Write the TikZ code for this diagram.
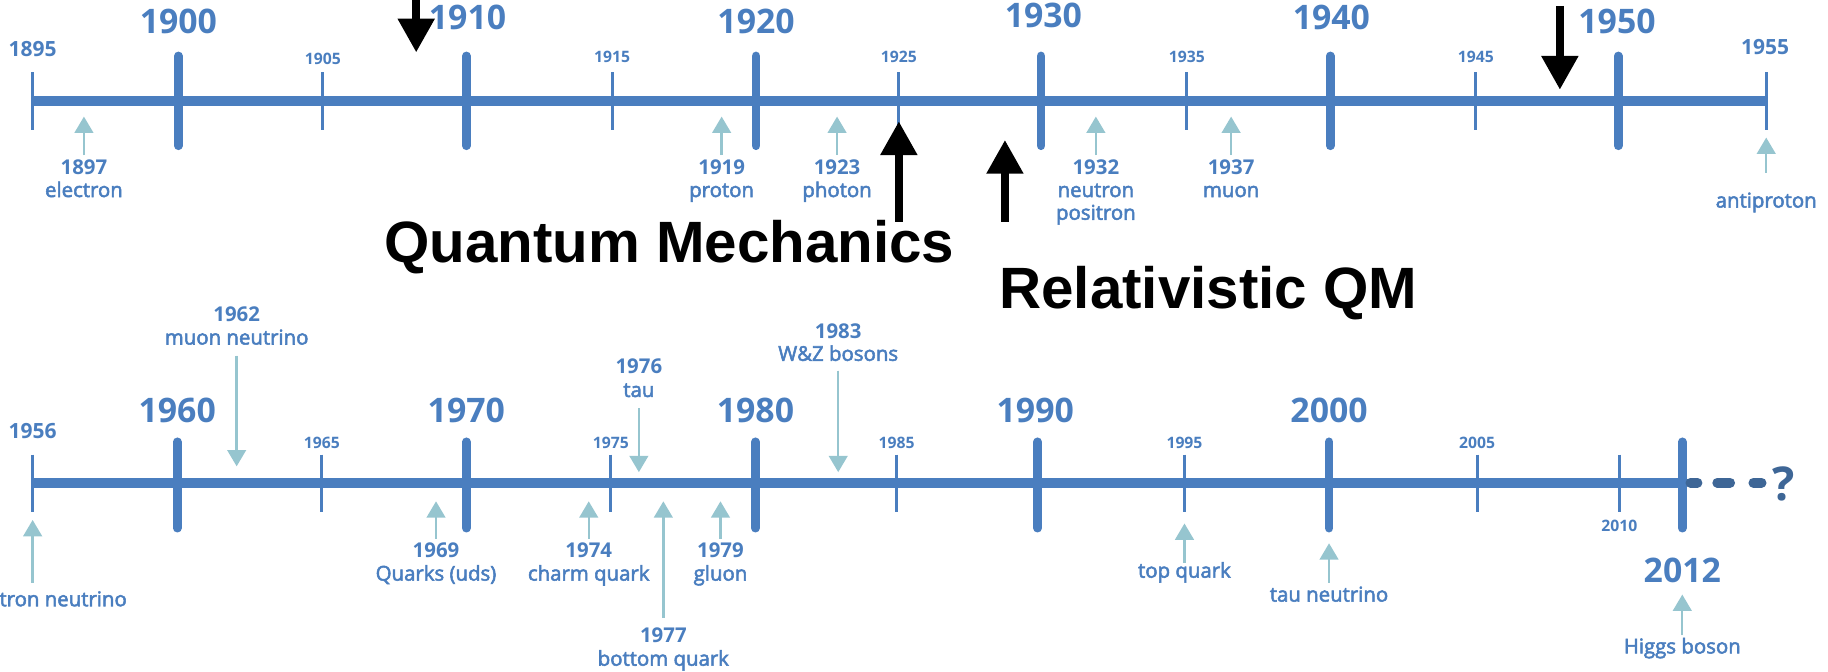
\documentclass[tikz,border=0pt]{standalone}
\usepackage{fontspec}
\usetikzlibrary{arrows.meta}
\setmainfont{Open Sans}
\newfontfamily\evnamefont[FakeBold=2.6]{Open Sans}
\newfontfamily\arialfont{Liberation Sans}
\definecolor{tlblue}{HTML}{4A7EBF}
\definecolor{tllight}{HTML}{96C5CF}
\definecolor{tldark}{HTML}{3E6696}
\tikzset{
  axisline/.style={line width=8.5pt, draw=tlblue},
  majortick/.style={line width=7.5pt, draw=tlblue, line cap=round},
  minortick/.style={line width=2.6pt, draw=tlblue},
  bigyear/.style={text=tlblue, anchor=base, inner sep=0pt, font=\fontsize{29}{34}\selectfont\bfseries},
  midyear/.style={text=tlblue, anchor=base, inner sep=0pt, font=\fontsize{18}{22}\selectfont\bfseries},
  smallyear/.style={text=tlblue, anchor=base, inner sep=0pt, font=\fontsize{13.5}{16}\selectfont\bfseries},
  evyear/.style={text=tlblue, anchor=base, inner sep=0pt, font=\fontsize{17.5}{21}\selectfont\bfseries},
  evname/.style={text=tlblue, anchor=base, inner sep=0pt, font=\fontsize{17.5}{21}\selectfont\evnamefont},
  evarrow/.style={draw=tllight, line width=2pt, -{Triangle[width=16pt,length=14pt]}, fill=tllight},
  bigarrow/.style={draw=black, line width=7pt, -{Triangle[width=30pt,length=29pt]}},
  bigtext/.style={text=black, anchor=base, inner sep=0pt, font=\fontsize{50}{60}\selectfont\arialfont\bfseries},
  dashseg/.style={draw=tldark, line width=8.5pt, line cap=round},
}
\begin{document}
\begin{tikzpicture}[x=1pt,y=-1pt]
\useasboundingbox (0,0) rectangle (1568,576);

% ---------- top timeline ----------
\coordinate (ta) at (28,87);
\coordinate (tb) at (1515,87);
\draw[axisline] (ta) -- (tb);
\foreach \x/\n in {153/1900,400/1910,648.5/1920,893/1930,1141/1940,1388/1950}
  \draw[majortick] (\x,48) -- (\x,125);
\foreach \x/\n in {28/1895,277/1905,525/1915,771/1925,1018/1935,1266/1945,1515/1955}
  \draw[minortick] (\x,62) -- (\x,111.5);

\node[bigyear] (l1900) at (153,28.6) {1900};
\node[bigyear] (l1910) at (401,25.5) {1910};
\node[bigyear] (l1920) at (648.5,28.5) {1920};
\node[bigyear] (l1930) at (895,23.5) {1930};
\node[bigyear] (l1940) at (1142,25.5) {1940};
\node[bigyear] (l1950) at (1387,28.5) {1950};
\node[midyear] (l1895) at (28,48.5) {1895};
\node[midyear] (l1955) at (1514,46.5) {1955};
\node[smallyear] (l1905) at (277,55) {1905};
\node[smallyear] (l1915) at (525,54) {1915};
\node[smallyear] (l1925) at (771,54) {1925};
\node[smallyear] (l1935) at (1018,54) {1935};
\node[smallyear] (l1945) at (1266,54) {1945};

% top events
\node[evyear] (y1897) at (72,149.5) {1897};
\node[evname] (n1897) at (72,169) {electron};
\coordinate (a1897t) at (72,100); \coordinate (a1897b) at (72,133);
\draw[evarrow] (a1897b) -- (a1897t);

\node[evyear] (y1919) at (619,149.5) {1919};
\node[evname] (n1919) at (619,169) {proton};
\coordinate (a1919t) at (619,100); \coordinate (a1919b) at (619,133);
\draw[evarrow] (a1919b) -- (a1919t);

\node[evyear] (y1923) at (718,149.5) {1923};
\node[evname] (n1923) at (718,169) {photon};
\coordinate (a1923t) at (718,100); \coordinate (a1923b) at (718,133);
\draw[evarrow] (a1923b) -- (a1923t);

\node[evyear] (y1932) at (940,149.5) {1932};
\node[evname] (n1932a) at (940,169) {neutron};
\node[evname] (n1932b) at (940,188.5) {positron};
\coordinate (a1932t) at (940,100); \coordinate (a1932b) at (940,133);
\draw[evarrow] (a1932b) -- (a1932t);

\node[evyear] (y1937) at (1056,149.5) {1937};
\node[evname] (n1937) at (1056,169) {muon};
\coordinate (a1937t) at (1056,100); \coordinate (a1937b) at (1056,133);
\draw[evarrow] (a1937b) -- (a1937t);

\node[evname] (n1955) at (1515,178) {antiproton};
\coordinate (a1955t) at (1515,118); \coordinate (a1955b) at (1515,148);
\draw[evarrow] (a1955b) -- (a1955t);

% black arrows and texts
\coordinate (k1a) at (357,-2); \coordinate (k1b) at (357,45);
\draw[bigarrow] (k1a) -- (k1b);
\coordinate (k2a) at (1338,5); \coordinate (k2b) at (1338,77);
\draw[bigarrow] (k2a) -- (k2b);
\coordinate (k3a) at (771,190); \coordinate (k3b) at (771,104);
\draw[bigarrow] (k3a) -- (k3b);
\coordinate (k4a) at (862,190); \coordinate (k4b) at (862,120);
\draw[bigarrow] (k4a) -- (k4b);
\node[bigtext] (qm) at (574,225) {Quantum Mechanics};
\node[bigtext] (rqm) at (1036.5,265) {Relativistic QM};

% ---------- bottom timeline ----------
\coordinate (ba) at (28,414);
\coordinate (bb) at (1443,414);
\draw[axisline] (ba) -- (bb);
\foreach \x in {152,400,648,890,1140,1443}
  \draw[majortick] (\x,379) -- (\x,453);
\foreach \x in {28,276,524,769,1016,1267,1389}
  \draw[minortick] (\x,390) -- (\x,439);
\draw[dashseg] (1450,414) -- (1456,414);
\draw[dashseg] (1473,414) -- (1484,414);
\draw[dashseg] (1504,414) -- (1511,414);
\node[text=tldark, anchor=base, inner sep=0pt, font=\fontsize{40}{48}\selectfont\bfseries] (qmark) at (1530,429) {?};

\node[bigyear] (l1960) at (152,362) {1960};
\node[bigyear] (l1970) at (400,362) {1970};
\node[bigyear] (l1980) at (648,362) {1980};
\node[bigyear] (l1990) at (888,362) {1990};
\node[bigyear] (l2000) at (1140,362) {2000};
\node[bigyear] (l2012) at (1443,500) {2012};
\node[midyear] (l1956) at (28,376.5) {1956};
\node[smallyear] (l1965) at (276,385) {1965};
\node[smallyear] (l1975) at (524,385) {1975};
\node[smallyear] (l1985) at (769,385) {1985};
\node[smallyear] (l1995) at (1016,385) {1995};
\node[smallyear] (l2005) at (1267,385) {2005};
\node[smallyear] (l2010) at (1389,456) {2010};

% bottom events, below
\node[evname] (n1956) at (38,520) {electron neutrino};
\coordinate (a1956t) at (28,446); \coordinate (a1956b) at (28,500);
\draw[evarrow] (a1956b) -- (a1956t);

\node[evyear] (y1969) at (374,478.5) {1969};
\node[evname] (n1969) at (374,498) {Quarks (uds)};
\coordinate (a1969t) at (374,430); \coordinate (a1969b) at (374,462);
\draw[evarrow] (a1969b) -- (a1969t);

\node[evyear] (y1974) at (505,478.5) {1974};
\node[evname] (n1974) at (505,498) {charm quark};
\coordinate (a1974t) at (505,430); \coordinate (a1974b) at (505,462);
\draw[evarrow] (a1974b) -- (a1974t);

\node[evyear] (y1977) at (569,551.5) {1977};
\node[evname] (n1977) at (569,571) {bottom quark};
\coordinate (a1977t) at (569,430); \coordinate (a1977b) at (569,530);
\draw[evarrow] (a1977b) -- (a1977t);

\node[evyear] (y1979) at (618,478.5) {1979};
\node[evname] (n1979) at (618,498) {gluon};
\coordinate (a1979t) at (618,430); \coordinate (a1979b) at (618,462);
\draw[evarrow] (a1979b) -- (a1979t);

\node[evname] (n1995) at (1016,495.5) {top quark};
\coordinate (a1995t) at (1016,449); \coordinate (a1995b) at (1016,483);
\draw[evarrow] (a1995b) -- (a1995t);

\node[evname] (n2000) at (1140,516) {tau neutrino};
\coordinate (a2000t) at (1140,466); \coordinate (a2000b) at (1140,500);
\draw[evarrow] (a2000b) -- (a2000t);

\node[evname] (n2012) at (1443,560.5) {Higgs boson};
\coordinate (a2012t) at (1443,510); \coordinate (a2012b) at (1443,545);
\draw[evarrow] (a2012b) -- (a2012t);

% bottom events, above
\node[evyear] (y1962) at (203,275.5) {1962};
\node[evname] (n1962) at (203,295.5) {muon neutrino};
\coordinate (a1962a) at (203,305); \coordinate (a1962b) at (203,400);
\draw[evarrow] (a1962a) -- (a1962b);

\node[evyear] (y1976) at (548,320.5) {1976};
\node[evname] (n1976) at (548,340.5) {tau};
\coordinate (a1976a) at (548,350); \coordinate (a1976b) at (548,405);
\draw[evarrow] (a1976a) -- (a1976b);

\node[evyear] (y1983) at (719,290.5) {1983};
\node[evname] (n1983) at (719,309.5) {W\&Z bosons};
\coordinate (a1983a) at (719,318); \coordinate (a1983b) at (719,405);
\draw[evarrow] (a1983a) -- (a1983b);
\end{tikzpicture}
\end{document}
